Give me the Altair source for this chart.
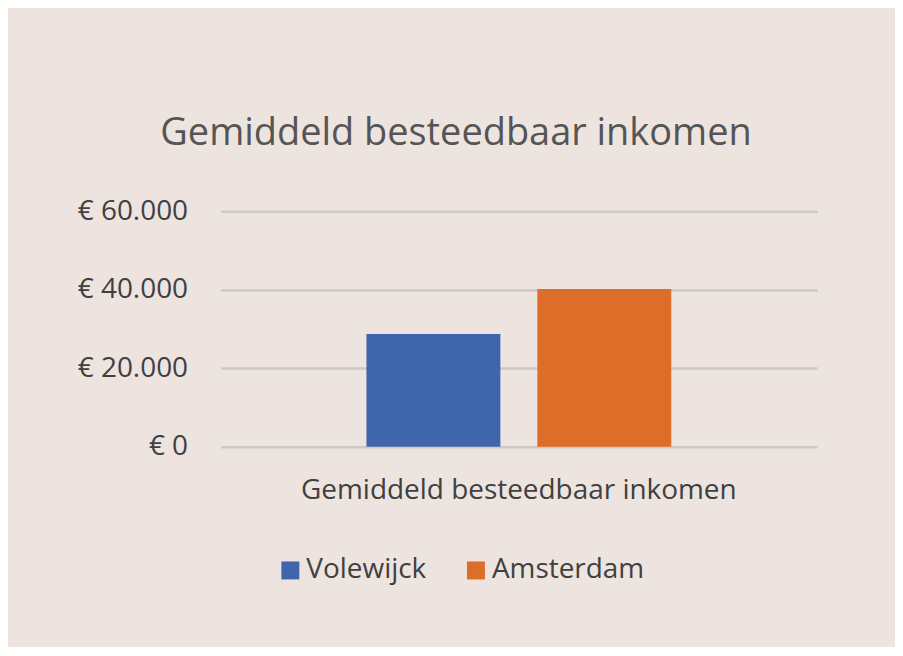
import altair as alt
import pandas as pd

group = ["Gemiddeld besteedbaar inkomen"]
series = ["Volewijck", "Amsterdam"]
values = [28700, 40200]
colors = ["#3F66AD", "#DC6E29"]
y_ticks = [0, 20000, 40000, 60000]

df = pd.DataFrame({
    "groep": [group[0]] * len(series),
    "reeks": series,
    "waarde": values,
})

FONT = "Open Sans"
BG = "#EDE4DF"

chart = alt.Chart(df).mark_bar().encode(
    x=alt.X("groep:N", title=None,
            scale=alt.Scale(paddingInner=0, paddingOuter=0.4787),
            axis=alt.Axis(labelAngle=0, domain=False, ticks=False, labelLimit=1000,
                          labelPadding=30, labelFontSize=28, labelColor="#404040",
                          labelFont=FONT)),
    xOffset=alt.XOffset("reeks:N", sort=series,
                        scale=alt.Scale(paddingInner=0.2164, paddingOuter=0)),
    y=alt.Y("waarde:Q", title=None,
            scale=alt.Scale(domain=[0, 60000], nice=False),
            axis=alt.Axis(values=y_ticks, domain=False, ticks=False,
                          labelPadding=33, labelFontSize=28, labelColor="#404040",
                          labelFont=FONT, gridColor="#CFC8C4", gridWidth=2.5,
                          labelExpr="'€ ' + replace(format(datum.value, ',d'), regexp(',', 'g'), '.')")),
    color=alt.Color("reeks:N", sort=series,
                    scale=alt.Scale(domain=series, range=colors),
                    legend=alt.Legend(title=None, orient="none", direction="horizontal",
                                      legendX=56, legendY=346,
                                      symbolType="square", symbolSize=324,
                                      symbolStrokeWidth=0, labelFontSize=28,
                                      labelColor="#404040", labelFont=FONT,
                                      labelOffset=2, columnPadding=35)),
).properties(
    width=598,
    height=236,
    title=alt.TitleParams("Gemiddeld besteedbaar inkomen", fontSize=38,
                          font=FONT, fontWeight="normal", color="#555555",
                          anchor="middle", frame="group", dx=-63,
                          baseline="alphabetic", offset=14),
    background=BG,
    padding={"left": 213, "top": 203, "right": 78, "bottom": 200},
    autosize=alt.AutoSizeParams(type="none"),
).configure_view(stroke=None)

chart.save("out.html", embed_options={"renderer": "svg", "actions": False})
